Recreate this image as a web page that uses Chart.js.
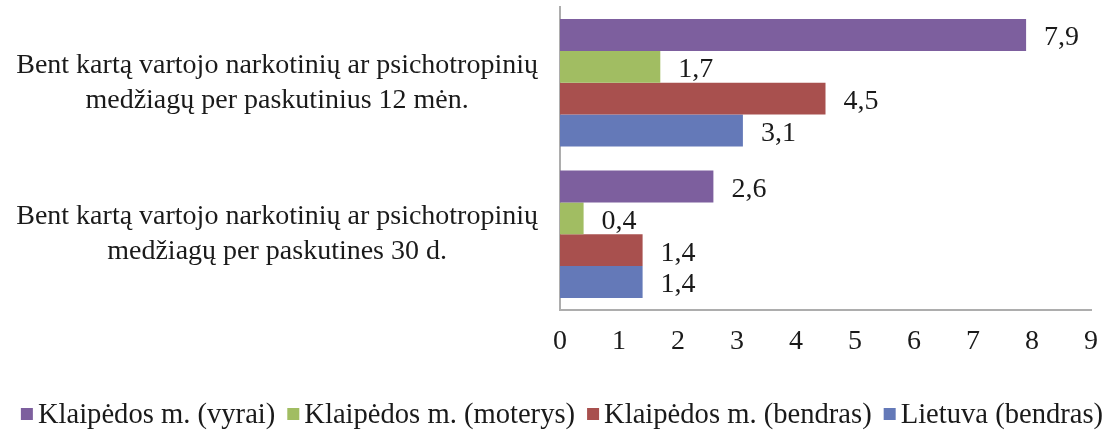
<!DOCTYPE html>
<html>
<head>
<meta charset="utf-8">
<script src="https://cdn.jsdelivr.net/npm/chart.js@4/dist/chart.umd.min.js"></script>
<style>
html,body{margin:0;padding:0;background:#fff;}
#wrap{width:1118px;height:433px;position:relative;}
</style>
</head>
<body>
<div id="wrap"><canvas id="c" width="1118" height="433"></canvas></div>
<script>
const categories = [
  ["Bent kartą vartojo narkotinių ar psichotropinių", "medžiagų per paskutinius 12 mėn."],
  ["Bent kartą vartojo narkotinių ar psichotropinių", "medžiagų per paskutines 30 d."]
];
const seriesNames = ["Klaipėdos m. (vyrai)", "Klaipėdos m. (moterys)", "Klaipėdos m. (bendras)", "Lietuva (bendras)"];
const vyrai = [7.9, 2.6];
const moterys = [1.7, 0.4];
const bendras = [4.5, 1.4];
const lietuva = [3.1, 1.4];
const xTicks = [0, 1, 2, 3, 4, 5, 6, 7, 8, 9];
const colors = ["#7d5f9e", "#a1bd62", "#a8504e", "#6479b8"];

const FONT = "'Liberation Serif', 'Times New Roman', serif";
const TXT = "#1a1a1a";

const valueLabels = {
  id: 'valueLabels',
  afterDatasetsDraw(chart) {
    const ctx = chart.ctx;
    ctx.save();
    ctx.font = "28px " + FONT;
    ctx.fillStyle = TXT;
    ctx.textAlign = 'left';
    ctx.textBaseline = 'middle';
    chart.data.datasets.forEach((ds, i) => {
      const meta = chart.getDatasetMeta(i);
      meta.data.forEach((el, j) => {
        const v = ds.data[j];
        ctx.fillText(v.toFixed(1).replace('.', ','), el.x + 18, el.y + 3);
      });
    });
    ctx.restore();
  }
};

// legend drawn under the chart, from dataset labels and colours
const bottomLegend = {
  id: 'bottomLegend',
  afterDraw(chart) {
    const ctx = chart.ctx;
    ctx.save();
    ctx.font = "28.6px " + FONT;
    ctx.textBaseline = 'middle';
    ctx.textAlign = 'left';
    const box = 12, gapText = 5, gapItem = 12;
    const items = chart.data.datasets.map(ds => ({ text: ds.label, color: ds.backgroundColor, w: ctx.measureText(ds.label).width }));
    const total = items.reduce((s, it) => s + box + gapText + it.w, 0) + gapItem * (items.length - 1);
    let x = 562 - total / 2;
    const y = 414;
    items.forEach(it => {
      ctx.fillStyle = it.color;
      ctx.fillRect(x, y - box / 2, box, box);
      x += box + gapText;
      ctx.fillStyle = TXT;
      ctx.fillText(it.text, x, y + 1);
      x += it.w + gapItem;
    });
    ctx.restore();
  }
};

new Chart(document.getElementById('c'), {
  type: 'bar',
  data: {
    labels: categories,
    datasets: [
      { label: seriesNames[0], data: vyrai, backgroundColor: colors[0] },
      { label: seriesNames[1], data: moterys, backgroundColor: colors[1] },
      { label: seriesNames[2], data: bendras, backgroundColor: colors[2] },
      { label: seriesNames[3], data: lietuva, backgroundColor: colors[3] }
    ]
  },
  options: {
    indexAxis: 'y',
    responsive: false,
    animation: false,
    devicePixelRatio: 1,
    layout: { padding: { top: 7, right: 27, left: 0, bottom: 76 } },
    datasets: { bar: { categoryPercentage: 0.84, barPercentage: 1.0, borderWidth: 0 } },
    scales: {
      x: {
        min: 0, max: 9,
        afterBuildTicks(scale) { scale.ticks = xTicks.map(v => ({ value: v })); },
        afterFit(scale) { scale.height = 47; scale.paddingLeft = 0; scale.paddingRight = 0; },
        grid: { display: false, drawTicks: false },
        border: { display: true, color: '#adadad', width: 2 },
        ticks: { color: TXT, padding: 15, font: { family: FONT, size: 28 } }
      },
      y: {
        afterFit(scale) { scale.width = 560; scale.paddingTop = 0; scale.paddingBottom = 0; },
        grid: { display: false, drawTicks: false },
        border: { display: true, color: '#adadad', width: 2 },
        ticks: { color: TXT, padding: 22, crossAlign: 'center', font: { family: FONT, size: 28, lineHeight: 1.25 } }
      }
    },
    plugins: {
      legend: { display: false },
      tooltip: { enabled: false }
    }
  },
  plugins: [valueLabels, bottomLegend]
});
</script>
</body>
</html>
